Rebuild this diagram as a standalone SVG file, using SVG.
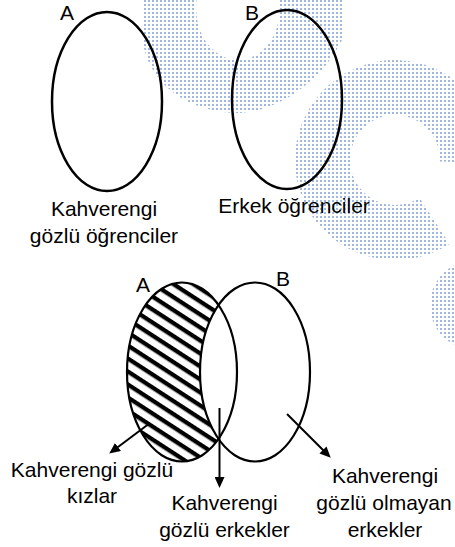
<svg xmlns="http://www.w3.org/2000/svg" width="455" height="547" viewBox="0 0 455 547">
<style>
  .t { font-family: "Liberation Sans", Arial, sans-serif; font-size: 21px; fill: #000; }
  .m { text-anchor: middle; }
  .ov { fill: none; stroke: #000; stroke-width: 2.5; }
  .ov2 { fill: none; stroke: #000; stroke-width: 2.2; }
  .wm { fill: url(#dots); }
  .conn { stroke: #000; stroke-width: 2; fill: none; marker-end: url(#ah); }
</style>
<defs>
  <pattern id="dots" patternUnits="userSpaceOnUse" width="4" height="4">
    <rect x="0" y="0" width="2" height="2" fill="#a0b7df"/>
  </pattern>
  <pattern id="hatch" patternUnits="userSpaceOnUse" width="30" height="10.9" patternTransform="rotate(33)">
    <rect x="0" y="0" width="30" height="4.3" fill="#000"/>
  </pattern>
  <clipPath id="clipA">
    <ellipse cx="182" cy="372" rx="55" ry="89.5"/>
  </clipPath>
  <mask id="notB" maskUnits="userSpaceOnUse" x="0" y="0" width="455" height="547">
    <rect x="0" y="0" width="455" height="547" fill="#fff"/>
    <ellipse cx="255" cy="372" rx="55" ry="89.5" fill="#000"/>
  </mask>
  <marker id="ah" markerUnits="userSpaceOnUse" viewBox="0 0 11 10" refX="5" refY="5" markerWidth="11" markerHeight="10" orient="auto">
    <path d="M0,0 L11,5 L0,10 Z" fill="#000"/>
  </marker>
</defs>
<rect x="0" y="0" width="455" height="547" fill="#fff"/>

<g id="watermark">
  <path class="wm" fill-rule="evenodd" d="M142,0 L142,35 C146,85 190,113 240,113 C285,110 325,75 342,40 L342,0 Z M196,8 A42,52 0 1 0 280,8 A42,52 0 1 0 196,8 Z"/>
  <path class="wm" d="M449.5,243.9 A100,100 0 1 1 494.9,163.5 L440,161.6 A45,45 0 1 0 419.5,197.7 Z"/>
  <circle class="wm" cx="475" cy="305" r="45"/>
</g>

<g id="top-A">
  <ellipse class="ov" cx="107" cy="101.5" rx="55" ry="89.5"/>
  <text class="t" x="60" y="20">A</text>
  <text class="t m" x="104" y="216">Kahverengi</text>
  <text class="t m" x="104" y="243">gözlü öğrenciler</text>
</g>

<g id="top-B">
  <ellipse class="ov" cx="287" cy="99.5" rx="55" ry="89.5"/>
  <text class="t" x="245" y="20">B</text>
  <text class="t m" x="294" y="213">Erkek öğrenciler</text>
</g>

<g id="bottom-A">
  <g clip-path="url(#clipA)">
    <rect x="100" y="270" width="160" height="200" fill="url(#hatch)" mask="url(#notB)"/>
  </g>
  <ellipse class="ov2" cx="182" cy="372" rx="55" ry="89.5"/>
  <text class="t" x="136" y="292">A</text>
</g>

<g id="bottom-B">
  <ellipse class="ov2" cx="255" cy="372" rx="55" ry="89.5"/>
  <text class="t" x="276" y="286">B</text>
</g>

<g id="connectors">
  <line class="conn" x1="150" y1="423" x2="114" y2="450"/>
  <line class="conn" x1="219.5" y1="408" x2="219.5" y2="482"/>
  <line class="conn" x1="287" y1="414" x2="326.5" y2="453.5"/>
</g>

<g id="label-kizlar">
  <text class="t m" x="92" y="477">Kahverengi gözlü</text>
  <text class="t m" x="92" y="503">kızlar</text>
</g>
<g id="label-erkekler">
  <text class="t m" x="224.5" y="510">Kahverengi</text>
  <text class="t m" x="224.5" y="537">gözlü erkekler</text>
</g>
<g id="label-olmayan">
  <text class="t m" x="385" y="483">Kahverengi</text>
  <text class="t m" x="384" y="510">gözlü olmayan</text>
  <text class="t m" x="385" y="537">erkekler</text>
</g>
</svg>
